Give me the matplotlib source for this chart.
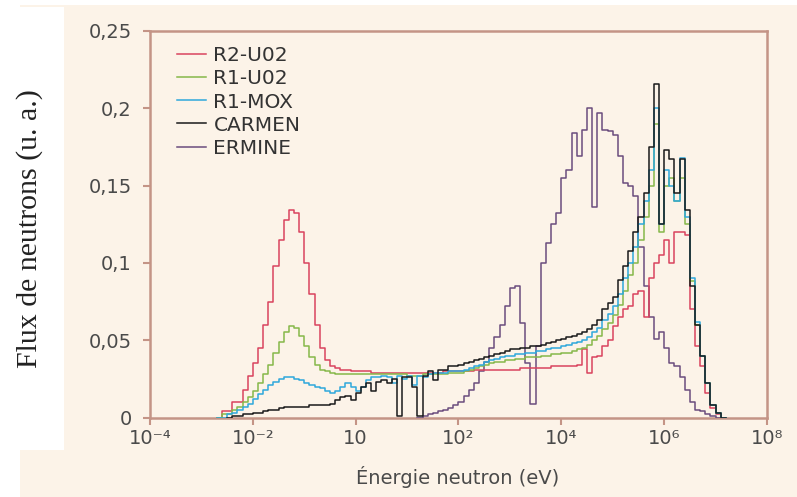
import numpy as np
import matplotlib
matplotlib.use("Agg")
import matplotlib.pyplot as plt
from matplotlib.patches import Rectangle

nan = np.nan

# log10(E) bin left edges, 0.1 decade wide, -2.7 ... 7.1
LOG_E = np.round(np.arange(-2.7, 7.15, 0.1), 1)

# flux per bin (u. a.), one row per decade
r2_uo2 = [0, 0.004, 0.004, 0.010, 0.010, 0.018, 0.027,
          0.035, 0.045, 0.060, 0.075, 0.098, 0.115, 0.128, 0.134, 0.132, 0.120,
          0.100, 0.080, 0.060, 0.045, 0.037, 0.033, 0.032, 0.031, 0.031, 0.030,
          0.030, 0.030, 0.030, 0.029, 0.029, 0.029, 0.029, 0.029, 0.029, 0.029,
          0.029, 0.029, 0.029, 0.029, 0.029, 0.029, 0.029, 0.030, 0.030, 0.030,
          0.030, 0.030, 0.030, 0.031, 0.031, 0.031, 0.031, 0.031, 0.031, 0.031,
          0.031, 0.031, 0.032, 0.032, 0.032, 0.032, 0.032, 0.032, 0.033, 0.033,
          0.033, 0.033, 0.033, 0.034, 0.044, 0.029, 0.039, 0.040, 0.046, 0.050,
          0.059, 0.065, 0.070, 0.072, 0.080, 0.082, 0.065, 0.090, 0.100, 0.105,
          0.115, 0.100, 0.120, 0.120, 0.118, 0.070, 0.046, 0.033, 0.016, 0.006,
          0.002, 0.0]
r1_uo2 = [0, 0.002, 0.002, 0.005, 0.007, 0.010, 0.013,
          0.017, 0.022, 0.028, 0.034, 0.042, 0.049, 0.055, 0.059, 0.058, 0.053,
          0.046, 0.039, 0.034, 0.031, 0.030, 0.029, 0.028, 0.028, 0.028, 0.028,
          0.028, 0.028, 0.028, 0.028, 0.028, 0.028, 0.028, 0.028, 0.028, 0.028,
          0.027, 0.027, 0.027, 0.028, 0.028, 0.028, 0.028, 0.028, 0.029, 0.029,
          0.029, 0.030, 0.031, 0.032, 0.033, 0.034, 0.035, 0.036, 0.036, 0.037,
          0.037, 0.038, 0.038, 0.039, 0.039, 0.039, 0.040, 0.040, 0.041, 0.041,
          0.042, 0.042, 0.043, 0.044, 0.045, 0.047, 0.050, 0.053, 0.057, 0.061,
          0.066, 0.073, 0.082, 0.092, 0.100, 0.115, 0.130, 0.150, 0.190, 0.120,
          0.150, 0.155, 0.140, 0.155, 0.125, 0.088, 0.060, 0.040, 0.022, 0.008,
          0.003, 0.0]
r1_mox = [0, 0, 0.002, 0.003, 0.005, 0.007, 0.009,
          0.012, 0.015, 0.018, 0.021, 0.023, 0.025, 0.026, 0.026, 0.025, 0.024,
          0.022, 0.021, 0.020, 0.019, 0.017, 0.016, 0.017, 0.020, 0.022, 0.020,
          0.017, 0.020, 0.024, 0.026, 0.026, 0.027, 0.026, 0.022, 0.027, 0.025,
          0.027, 0.021, 0.027, 0.026, 0.028, 0.029, 0.029, 0.029, 0.030, 0.030,
          0.030, 0.031, 0.032, 0.033, 0.034, 0.036, 0.037, 0.038, 0.039, 0.040,
          0.040, 0.041, 0.041, 0.042, 0.042, 0.043, 0.043, 0.044, 0.045, 0.045,
          0.046, 0.047, 0.048, 0.049, 0.050, 0.052, 0.055, 0.058, 0.063, 0.067,
          0.072, 0.080, 0.090, 0.100, 0.110, 0.125, 0.140, 0.160, 0.200, 0.125,
          0.160, 0.150, 0.140, 0.168, 0.130, 0.090, 0.062, 0.040, 0.022, 0.008,
          0.003, 0.0]
carmen = [nan, nan, 0, 0.001, 0.001, 0.002, 0.002,
          0.003, 0.003, 0.004, 0.005, 0.005, 0.006, 0.007, 0.007, 0.007, 0.007,
          0.007, 0.008, 0.008, 0.008, 0.008, 0.009, 0.011, 0.013, 0.014, 0.011,
          0.016, 0.020, 0.022, 0.017, 0.023, 0.024, 0.022, 0.025, 0.001, 0.026,
          0.026, 0.020, 0.001, 0.027, 0.030, 0.024, 0.031, 0.031, 0.033, 0.033,
          0.034, 0.035, 0.036, 0.037, 0.038, 0.039, 0.040, 0.041, 0.042, 0.043,
          0.044, 0.044, 0.045, 0.045, 0.046, 0.046, 0.047, 0.048, 0.049, 0.050,
          0.051, 0.052, 0.053, 0.054, 0.055, 0.057, 0.060, 0.063, 0.070, 0.074,
          0.078, 0.089, 0.098, 0.108, 0.120, 0.130, 0.145, 0.175, 0.216, 0.125,
          0.173, 0.167, 0.145, 0.167, 0.134, 0.085, 0.060, 0.040, 0.022, 0.008,
          0.003, 0.0]
ermine = [nan] * 37 + [
          nan, nan, 0.000, 0.001, 0.002, 0.003, 0.004, 0.005, 0.006, 0.008,
          0.010, 0.014, 0.018, 0.022, 0.030, 0.036, 0.045, 0.052, 0.060, 0.072,
          0.084, 0.085, 0.061, 0.035, 0.009, 0.046, 0.100, 0.113, 0.125, 0.132,
          0.155, 0.160, 0.184, 0.169, 0.186, 0.200, 0.136, 0.197, 0.186, 0.185,
          0.183, 0.169, 0.152, 0.150, 0.143, 0.110, 0.085, 0.065, 0.051, 0.055,
          0.045, 0.035, 0.033, 0.026, 0.018, 0.010, 0.005, 0.004, 0.002, 0.001,
          0.0, nan]

NAMES = ["R2-U02", "R1-U02", "R1-MOX", "CARMEN", "ERMINE"]
COLORS = ["#d9435e", "#86b84a", "#2fa8dc", "#1a1a1a", "#6b4c7d"]
XTICKS = [1e-4, 1e-2, 1e0, 1e2, 1e4, 1e6, 1e8]
XTICKLABELS = ["10\u207b\u2074", "10\u207b\u00b2", "10", "10\u00b2", "10\u2074", "10\u2076", "10\u2078"]
YTICKS = [0, 0.05, 0.1, 0.15, 0.2, 0.25]
YTICKLABELS = ["0", "0,05", "0,1", "0,15", "0,2", "0,25"]

W, H = 797, 497
CREAM = "#fcf3e8"
SPINE = "#c49486"
TXT = "#4a4a4a"

fig = plt.figure(figsize=(W / 100, H / 100), dpi=100, facecolor="white")
# background panels
fig.patches.append(Rectangle((20 / W, 0), 1 - 20 / W, 1 - 5 / H, transform=fig.transFigure,
                             facecolor=CREAM, edgecolor="none", zorder=-10))
fig.patches.append(Rectangle((0, 47 / H), 64 / W, (450 - 7) / H, transform=fig.transFigure,
                             facecolor="white", edgecolor="none", zorder=-9))

ax = fig.add_axes([150 / W, 1 - 417.5 / H, (767 - 150) / W, (417.5 - 31) / H])
ax.set_facecolor(CREAM)

x = 10 ** np.append(LOG_E, 7.2)
series = [ermine, r2_uo2, r1_uo2, r1_mox, carmen]
order = [4, 0, 1, 2, 3]
for idx, vals in zip(order, series):
    y = np.append(vals, vals[-1])
    ax.step(x, y, where="post", color=COLORS[idx], lw=1.1, zorder=3)

ax.set_xscale("log")
ax.set_xlim(1e-4, 1e8)
ax.set_ylim(0, 0.25)
ax.set_xticks(XTICKS)
ax.set_xticklabels(XTICKLABELS)
ax.xaxis.set_minor_locator(matplotlib.ticker.NullLocator())
ax.set_yticks(YTICKS)
ax.set_yticklabels(YTICKLABELS)
for s in ax.spines.values():
    s.set_color(SPINE)
    s.set_linewidth(1.8)
ax.tick_params(axis="both", direction="out", length=5, width=1.5, color=SPINE,
               labelcolor=TXT, labelsize=14)
ax.tick_params(axis="x", pad=3)
ax.tick_params(axis="y", pad=8)
for lab in ax.get_xticklabels() + ax.get_yticklabels():
    lab.set_family("DejaVu Sans")

handles = [plt.Line2D([0], [0], color=c, lw=1.1) for c in COLORS]
leg = ax.legend(handles, NAMES, loc="upper left", bbox_to_anchor=(0.044, 0.96),
                frameon=False, borderpad=0, borderaxespad=0, handlelength=1.45,
                handletextpad=0.35, labelspacing=0.2, prop={"family": "DejaVu Sans", "size": 14.5})
for t in leg.get_texts():
    t.set_color("#333333")

fig.text(458 / W, 1 - 477 / H, "Énergie neutron (eV)", ha="center", va="center",
         fontsize=14, color=TXT, family="DejaVu Sans")
fig.text(30 / W, 1 - 229 / H, "Flux de neutrons (u. a.)", rotation=90, ha="center", va="center",
         fontsize=21.5, color="#222222", family="Liberation Serif")

fig.savefig("out.png", dpi=100, facecolor=fig.get_facecolor())
